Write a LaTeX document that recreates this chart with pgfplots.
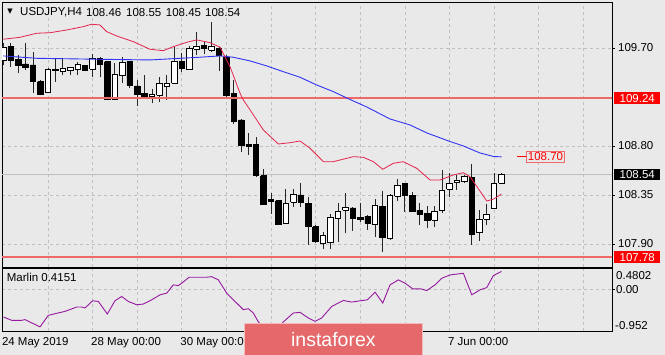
\documentclass[border=0pt]{standalone}
\usepackage{pgfplots}
\pgfplotsset{compat=1.18}
\usepackage{pgfplotstable}
\usepackage{fontspec}
\setmainfont{Liberation Sans}
\newfontfamily\dejavu{DejaVu Sans}
\newcommand\lbl{\fontsize{11.5}{13}\selectfont}

\definecolor{bg}{RGB}{233,233,233}
\definecolor{gridc}{RGB}{192,192,192}
\definecolor{hline}{RGB}{240,105,105}
\definecolor{maBlue}{RGB}{50,50,245}
\definecolor{maRed}{RGB}{228,35,75}
\definecolor{marlin}{RGB}{150,25,160}
\definecolor{logo}{RGB}{229,104,106}
\definecolor{pricered}{RGB}{255,0,0}

\pgfplotstableread{
k o h l c
0 109.590 109.746 109.544 109.709
1 109.712 109.749 109.528 109.590
2 109.596 109.636 109.468 109.544
3 109.553 109.743 109.498 109.523
4 109.544 109.666 109.284 109.391
5 109.391 109.406 109.268 109.278
6 109.293 109.514 109.290 109.504
7 109.492 109.605 109.391 109.504
8 109.489 109.605 109.452 109.514
9 109.492 109.528 109.452 109.519
10 109.504 109.574 109.452 109.550
11 109.541 109.544 109.492 109.498
12 109.507 109.642 109.437 109.602
13 109.605 109.620 109.437 109.553
14 109.574 109.574 109.223 109.229
15 109.232 109.560 109.229 109.459
16 109.446 109.620 109.376 109.565
17 109.572 109.572 109.330 109.360
18 109.351 109.406 109.167 109.275
19 109.284 109.452 109.238 109.244
20 109.253 109.321 109.192 109.275
21 109.268 109.437 109.207 109.370
22 109.351 109.452 109.223 109.376
23 109.376 109.707 109.370 109.581
24 109.574 109.651 109.482 109.514
25 109.504 109.721 109.498 109.697
26 109.688 109.844 109.636 109.718
27 109.725 109.767 109.642 109.697
28 109.682 109.942 109.666 109.712
29 109.697 109.712 109.492 109.636
30 109.617 109.636 109.232 109.268
31 109.284 109.406 109.002 109.023
32 109.039 109.045 108.748 108.809
33 108.816 108.920 108.718 108.800
34 108.816 108.886 108.518 108.527
35 108.527 108.586 108.260 108.265
36 108.307 108.366 108.173 108.295
37 108.298 108.300 108.081 108.081
38 108.090 108.403 108.085 108.270
39 108.283 108.403 108.243 108.353
40 108.350 108.458 108.243 108.286
41 108.270 108.335 107.891 108.059
42 108.059 108.075 107.907 107.921
43 107.907 108.013 107.852 107.980
44 107.912 108.173 107.852 108.145
45 108.136 108.274 107.921 108.200
46 108.212 108.366 108.004 108.237
47 108.231 108.237 108.022 108.133
48 108.145 108.274 108.105 108.127
49 108.155 108.167 108.029 108.090
50 108.081 108.311 107.967 108.252
51 108.246 108.387 107.824 107.962
52 107.953 108.357 107.937 108.347
53 108.341 108.494 108.298 108.439
54 108.458 108.460 108.194 108.350
55 108.347 108.380 108.200 108.203
56 108.212 108.274 108.075 108.173
57 108.182 108.249 108.044 108.114
58 108.121 108.249 108.059 108.203
59 108.206 108.580 108.182 108.396
60 108.403 108.549 108.335 108.458
61 108.463 108.534 108.396 108.488
62 108.472 108.534 108.463 108.518
63 108.513 108.632 107.891 107.992
64 108.004 108.212 107.930 108.127
65 108.130 108.268 108.075 108.176
66 108.228 108.555 108.225 108.458
67 108.460 108.550 108.450 108.540
}\candles

\pgfplotstableread{
k p
0 109.627
4.49 109.605
13.0 109.596
19.73 109.590
26.46 109.615
29.15 109.627
30.89 109.615
33.18 109.581
35.43 109.535
37.66 109.482
39.9 109.431
42.15 109.360
44.38 109.299
46.63 109.227
48.88 109.158
52.01 109.048
54.70 108.993
56.95 108.920
60.08 108.841
61.87 108.800
64.1 108.736
65.9 108.704
67 108.700
}\bluema

\pgfplotstableread{
k p
0 109.780
2.25 109.798
4.49 109.835
6.28 109.840
8.53 109.865
10.76 109.896
11.89 109.918
13.0 109.911
13.9 109.850
15.25 109.810
17.48 109.758
19.73 109.688
21.52 109.675
22.86 109.712
24.67 109.752
26.01 109.774
27.8 109.749
29.15 109.707
30.49 109.528
31.84 109.284
32.28 109.223
34.08 109.039
34.97 108.947
36.99 108.818
38.56 108.830
39.9 108.846
41.25 108.779
43.04 108.656
44.38 108.656
47.07 108.702
48.42 108.696
49.77 108.656
51.03 108.586
52.45 108.641
53.8 108.656
55.6 108.595
57.39 108.488
58.74 108.488
60.52 108.534
61.87 108.555
62.77 108.518
65.02 108.295
65.9 108.311
67 108.359
}\redma

\pgfplotstableread{
k v
0 -0.621
1.13 -0.698
2.47 -0.698
2.92 -0.682
4.03 -0.773
4.94 -0.847
6.05 -0.585
6.95 -0.547
8.30 -0.495
9.87 -0.396
10.54 -0.396
10.99 -0.418
12.02 -0.253
12.78 -0.269
13.99 -0.554
15.02 -0.253
15.92 -0.156
16.81 -0.269
17.94 -0.344
18.83 -0.328
19.96 -0.231
21.08 -0.118
21.98 -0.080
22.86 0.108
23.54 0.092
23.99 0.146
25.0 0.282
27.36 0.282
28.03 0.295
28.92 0.221
30.05 -0.080
30.94 -0.231
31.84 -0.382
32.28 -0.457
32.95 -0.434
33.62 -0.531
34.30 -0.734
35.2 -0.880
36.2 -0.952
37.0 -0.860
37.66 -0.734
39.0 -0.531
39.9 -0.517
41.02 -0.644
41.92 -0.721
42.82 -0.644
44.17 -0.382
45.73 -0.247
46.86 -0.283
48.96 -0.231
49.99 -0.057
51.03 -0.305
52.01 0.108
53.13 0.221
54.03 0.146
55.06 0.017
56.14 0.017
56.95 -0.021
58.06 0.108
58.97 0.259
60.08 0.334
61.87 0.372
63.0 -0.118
64.12 -0.005
65.02 0.047
65.9 0.318
67 0.415
}\marlintab

\tikzset{
  pbox/.style={anchor=west, xshift=2pt, text=white, font=\lbl, inner xsep=0pt, inner ysep=0.5pt, minimum width=46pt, minimum height=11.5pt},
  wick/.style={black!85, line width=0.8pt},
}

\begin{document}
\begin{tikzpicture}[x=1pt,y=1pt]
\path[use as bounding box, fill=bg] (0,0) rectangle (665,355);

% ---------------- main price panel ----------------
\begin{axis}[
  at={(2pt,353pt)}, anchor=north west,
  width=610pt, height=265pt, scale only axis,
  xmin=-0.175, xmax=81.86, ymin=107.689, ymax=110.122,
  axis background/.style={fill=bg},
  axis line style={black, line width=0.8pt},
  xtick={6,12,...,78}, xticklabels={}, xtick style={draw=none},
  ytick={107.90,108.35,108.80,109.70},
  yticklabels={107.90,108.35,108.80,109.70},
  ytick pos=right, yticklabel pos=right,
  tick align=outside, major tick length=2.5pt,
  ytick style={black, line width=0.6pt},
  yticklabel style={font=\lbl, anchor=west, inner sep=0pt, xshift=3.5pt},
  grid=major, major grid style={gridc, dash pattern=on 3pt off 3pt, line width=0.6pt},
  clip mode=individual,
]
\addplot[gray!50, line width=0.8pt] coordinates {(-1,108.54) (83,108.54)};

\pgfplotstablegetrowsof{\candles}
\pgfmathtruncatemacro\lastrow{\pgfplotsretval-1}
\pgfplotsforeachungrouped \i in {0,...,\lastrow}{%
  \pgfplotstablegetelem{\i}{k}\of\candles \let\cK\pgfplotsretval
  \pgfplotstablegetelem{\i}{o}\of\candles \let\cO\pgfplotsretval
  \pgfplotstablegetelem{\i}{h}\of\candles \let\cH\pgfplotsretval
  \pgfplotstablegetelem{\i}{l}\of\candles \let\cL\pgfplotsretval
  \pgfplotstablegetelem{\i}{c}\of\candles \let\cC\pgfplotsretval
  \pgfmathsetmacro\xa{\cK-0.37}%
  \pgfmathsetmacro\xb{\cK+0.37}%
  \pgfmathtruncatemacro\up{\cC>=\cO ? 1 : 0}%
  \ifnum\up=1 \def\bc{white}\else\def\bc{black}\fi
  \edef\temp{%
    \noexpand\addplot[wick] coordinates {(\cK,\cL) (\cK,\cH)};
    \noexpand\addplot[draw=black, line width=0.8pt, fill=\bc] coordinates {(\xa,\cO) (\xb,\cO) (\xb,\cC) (\xa,\cC) (\xa,\cO)};
  }\temp
}

\addplot[hline, line width=1.6pt] coordinates {(-1,109.24) (83,109.24)};
\addplot[hline, line width=1.6pt] coordinates {(-1,107.78) (83,107.78)};
\addplot[maBlue, line width=0.9pt] table[x=k, y=p] {\bluema};
\addplot[maRed, line width=0.8pt] table[x=k, y=p] {\redma};

\draw[pricered, line width=0.8pt] (axis cs:69.05,108.70) -- (axis cs:70.3,108.70)
  node[anchor=west, draw=hline, text=pricered, inner xsep=1.5pt, inner ysep=1.5pt, font=\lbl, line width=0.8pt] {108.70};

\node[pbox, fill=pricered] at ({rel axis cs:1,0}|-{axis cs:0,109.24}) {109.24};
\node[pbox, fill=black] at ({rel axis cs:1,0}|-{axis cs:0,108.54}) {108.54};
\node[pbox, fill=pricered] at ({rel axis cs:1,0}|-{axis cs:0,107.78}) {107.78};
\end{axis}

% ---------------- Marlin panel ----------------
\begin{axis}[
  at={(2pt,86.5pt)}, anchor=north west,
  width=610pt, height=63pt, scale only axis,
  xmin=-0.175, xmax=81.86, ymin=-0.952, ymax=0.4802,
  axis background/.style={fill=bg},
  axis line style={black, line width=0.8pt},
  xtick pos=bottom,
  xtick={6,12,...,78}, xticklabels={}, xtick style={draw=none},
  extra x ticks={0,12,24,60},
  extra x tick labels={24 May 2019,28 May 00:00,30 May 00:00,7 Jun 00:00},
  extra x tick style={grid=none, tick align=outside, major tick length=4pt,
     tick style={draw=black, line width=0.6pt},
     xticklabel style={anchor=north west, font=\lbl, inner sep=0pt, xshift=-1.5pt, yshift=-2pt}},
  ytick={0}, yticklabels={0.00},
  ytick pos=right, yticklabel pos=right,
  tick align=outside, major tick length=2.5pt,
  ytick style={black, line width=0.6pt},
  yticklabel style={font=\lbl, anchor=west, inner sep=0pt, xshift=1.5pt},
  grid=major, major grid style={gridc, dash pattern=on 3pt off 3pt, line width=0.6pt},
  clip mode=individual,
]
\addplot[marlin, line width=0.9pt] table[x=k, y=v] {\marlintab};
\end{axis}

% ---------------- texts ----------------
\node[anchor=west, inner sep=0pt, font=\lbl] at (616,79) {0.4802};
\node[anchor=west, inner sep=0pt, font=\lbl] at (615,29.3) {-0.952};
\node[anchor=west, inner sep=0pt, font=\lbl] at (6.7,78) {Marlin 0.4151};

\node[inner sep=0pt] at (10,343) {\dejavu\fontsize{7}{7}\selectfont ▼};
\node[anchor=west, inner sep=0pt, font=\lbl] at (20,342.3) {USDJPY,H4};
\node[anchor=west, inner sep=0pt, font=\lbl] at (86,342.3) {108.46};
\node[anchor=west, inner sep=0pt, font=\lbl] at (126,342.3) {108.55};
\node[anchor=west, inner sep=0pt, font=\lbl] at (165.7,342.3) {108.45};
\node[anchor=west, inner sep=0pt, font=\lbl] at (205,342.3) {108.54};

% logo
\fill[logo] (244.5,0) rectangle (422.3,31.5);
\draw[white!55!logo, line width=1pt] (244.5,0) -- (244.5,31.5) -- (422.3,31.5) -- (422.3,0);
\node[text=white, inner sep=0pt, font=\fontsize{19.5}{20}\selectfont] at (333.4,15.5) {instaforex};
\end{tikzpicture}
\end{document}
